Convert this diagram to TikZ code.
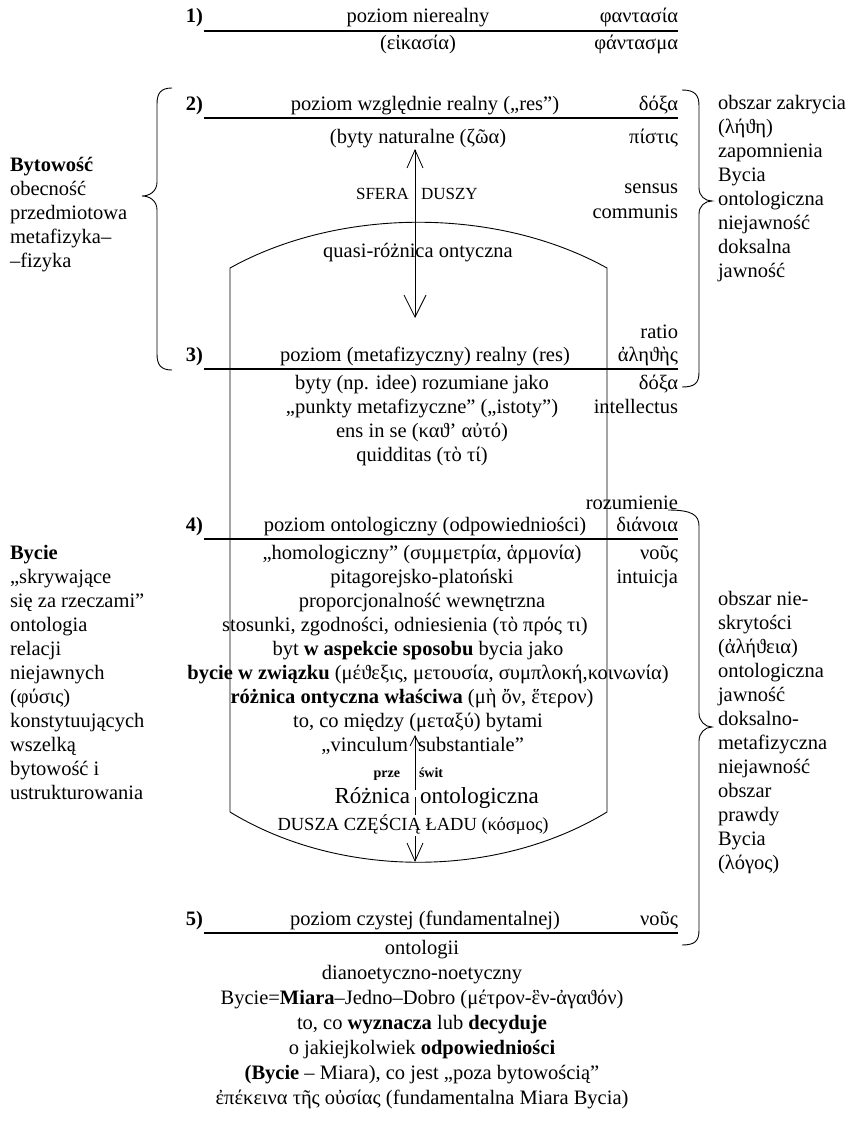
\documentclass[tikz,border=0pt]{standalone}
\usepackage{fontspec}
\setmainfont{Liberation Serif}
\usetikzlibrary{arrows.meta}
\newcommand{\mainsize}{\fontsize{20.5}{24}\selectfont}
\newcommand{\capsize}{\fontsize{17}{20}\selectfont}
\begin{document}
\begin{tikzpicture}[x=1pt,y=-1pt,
  txt/.style={inner sep=0pt,outer sep=0pt,font=\mainsize},
  ctext/.style={txt,anchor=base},
  rtext/.style={txt,anchor=base east},
  ltext/.style={txt,anchor=base west},
  numlabel/.style={txt,anchor=base east,font=\mainsize\bfseries},
  capstext/.style={inner sep=0pt,outer sep=0pt,font=\capsize},
  smallbold/.style={inner sep=0pt,outer sep=0pt,font=\fontsize{14}{16}\selectfont\bfseries},
  bigtext/.style={inner sep=0pt,outer sep=0pt,anchor=base,font=\fontsize{23}{26}\selectfont},
  levelline/.style={line width=1.2pt},
  frame/.style={line width=0.9pt},
  bracepath/.style={line width=0.9pt},
  barbline/.style={line width=0.8pt},
]
\useasboundingbox (0,0) rectangle (855,1124);

% ---------- level 1 ----------
\node[numlabel] (n1) at (203,23) {1)};
\node[ctext] (t1) at (418,23) {poziom nierealny};
\node[rtext] (g1) at (678,23) {φαντασία};
\coordinate (l1a) at (204,31); \coordinate (l1b) at (678,31);
\draw[levelline] (l1a) -- (l1b);
\node[ctext] (t1b) at (418,50) {(εἰκασία)};
\node[rtext] (g1b) at (678,50) {φάντασμα};

% ---------- level 2 ----------
\node[numlabel] (n2) at (203,110) {2)};
\node[ctext] (t2) at (425,110) {poziom względnie realny („res”)};
\node[rtext] (g2) at (678,110) {δόξα};
\coordinate (l2a) at (204,118); \coordinate (l2b) at (678,118);
\draw[levelline] (l2a) -- (l2b);
\node[ctext] (t2b) at (418,143) {(byty naturalne (ζῶα)};
\node[rtext] (g2b) at (678,143) {πίστις};
\node[capstext,anchor=base east] (sf1) at (409,199) {SFERA};
\node[capstext,anchor=base west] (sf2) at (421,199) {DUSZY};
\node[rtext] (g2c) at (678,193) {sensus};
\node[rtext] (g2d) at (678,218) {communis};
\node[ctext] (q) at (418,257) {quasi-różnica ontyczna};
\node[rtext] (g2e) at (678,338) {ratio};

% soul sphere arrow
\coordinate (aTop) at (415,149);
\coordinate (aBot) at (415,318);
\draw[barbline,{Straight Barb[length=18pt,width=16pt]}-{Straight Barb[length=22pt,width=22pt]}] (aTop) -- (aBot);

% ---------- container ----------
\coordinate (cTL) at (230,268); \coordinate (cTR) at (607,268);
\coordinate (cBL) at (230,812); \coordinate (cBR) at (607,812);
\draw[frame] (cBL) -- (cTL) .. controls (340,207) and (497,207) .. (cTR) -- (cBR)
  .. controls (497,879) and (340,879) .. (cBL);

% ---------- level 3 ----------
\node[numlabel] (n3) at (203,361) {3)};
\node[ctext] (t3) at (425,361) {poziom (metafizyczny) realny (res)};
\node[rtext] (g3) at (678,361) {ἀληϑὴς};
\coordinate (l3a) at (204,369); \coordinate (l3b) at (678,369);
\draw[levelline] (l3a) -- (l3b);
\node[ctext] (t3b) at (422,389) {byty (np. idee) rozumiane jako};
\node[rtext] (g3b) at (678,389) {δόξα};
\node[ctext] (t3c) at (422,413) {„punkty metafizyczne” („istoty”)};
\node[rtext] (g3c) at (678,413) {intellectus};
\node[ctext] (t3d) at (422,437) {ens in se (καϑ’ αὐτό)};
\node[ctext] (t3e) at (422,461) {quidditas (τὸ τί)};
\node[rtext] (g3d) at (678,509) {rozumienie};

% ---------- level 4 ----------
\node[numlabel] (n4) at (203,531) {4)};
\node[ctext] (t4) at (425,531) {poziom ontologiczny (odpowiedniości)};
\node[rtext] (g4) at (678,531) {διάνοια};
\coordinate (l4a) at (204,539); \coordinate (l4b) at (678,539);
\draw[levelline] (l4a) -- (l4b);
\node[ctext] (c1) at (422,559) {„homologiczny” (συμμετρία, ἁρμονία)};
\node[rtext] (g4b) at (678,559) {νοῦς};
\node[ctext] (c2) at (422,583) {pitagorejsko-platoński};
\node[rtext] (g4c) at (678,583) {intuicja};
\node[ctext] (c3) at (422,607) {proporcjonalność wewnętrzna};
\node[ctext] (c4) at (405,631) {stosunki, zgodności, odniesienia (τὸ πρός τι)};
\node[ctext] (c5) at (418,655) {byt \textbf{w aspekcie sposobu} bycia jako};
\node[ctext] (c6) at (428,679) {\textbf{bycie w związku} (μέϑεξις, μετουσία, συμπλοκή,κοινωνία)};
\node[ctext] (c7) at (412,703) {\textbf{różnica ontyczna właściwa} (μὴ ὄν, ἕτερον)};
\node[ctext] (c8) at (418,727) {to, co między (μεταξύ) bytami};
\node[txt,anchor=base east] (c9a) at (408,751) {„vinculum};
\node[txt,anchor=base west] (c9b) at (418,751) {substantiale”};
\node[smallbold,anchor=base east] (pz1) at (400,777) {prze};
\node[smallbold,anchor=base west] (pz2) at (419,777) {świt};
\node[bigtext,anchor=base east] (ro1) at (410,803) {Różnica};
\node[bigtext,anchor=base west] (ro2) at (420,803) {ontologiczna};
\node[inner sep=0pt,outer sep=0pt,anchor=base,font=\fontsize{18.5}{22}\selectfont] (dusza) at (413,830) {DUSZA CZĘŚCIĄ ŁADU (κόσμος)};

\coordinate (vTip) at (415,735);
\coordinate (vLow) at (415,790);
\draw[barbline,-{Straight Barb[length=10pt,width=10pt]}] (vLow) -- (vTip);
\coordinate (mA) at (415,797); \coordinate (mB) at (415,815);
\draw[barbline] (mA) -- (mB);
\coordinate (dA) at (415,836); \coordinate (dTip) at (415,862);
\draw[barbline,-{Straight Barb[length=18pt,width=16pt]}] (dA) -- (dTip);

% ---------- level 5 ----------
\node[numlabel] (n5) at (203,925) {5)};
\node[ctext] (t5) at (425,925) {poziom czystej (fundamentalnej)};
\node[rtext] (g5) at (678,925) {νοῦς};
\coordinate (l5a) at (204,933); \coordinate (l5b) at (678,933);
\draw[levelline] (l5a) -- (l5b);
\node[ctext] (b1) at (422,954) {ontologii};
\node[ctext] (b2) at (422,979) {dianoetyczno-noetyczny};
\node[ctext] (b3) at (422,1004) {Bycie=\textbf{Miara}–Jedno–Dobro (μέτρον-ἓν-ἀγαϑόν)};
\node[ctext] (b4) at (422,1029) {to, co \textbf{wyznacza} lub \textbf{decyduje}};
\node[ctext] (b5) at (422,1054) {o jakiejkolwiek \textbf{odpowiedniości}};
\node[ctext] (b6) at (422,1079) {\textbf{(Bycie} – Miara), co jest „poza bytowością”};
\node[ctext] (b7) at (422,1104) {ἐπέκεινα τῆς οὐσίας (fundamentalna Miara Bycia)};

% ---------- left column ----------
\node[ltext] (L1) at (10,171) {\textbf{Bytowość}};
\node[ltext] (L2) at (10,195) {obecność};
\node[ltext] (L3) at (10,219) {przedmiotowa};
\node[ltext] (L4) at (10,243) {metafizyka–};
\node[ltext] (L5) at (10,267) {–fizyka};

\node[ltext] (M1) at (10,559) {\textbf{Bycie}};
\node[ltext] (M2) at (10,583) {„skrywające};
\node[ltext] (M3) at (10,607) {się za rzeczami”};
\node[ltext] (M4) at (10,631) {ontologia};
\node[ltext] (M5) at (10,655) {relacji};
\node[ltext] (M6) at (10,679) {niejawnych};
\node[ltext] (M7) at (10,703) {(φύσις)};
\node[ltext] (M8) at (10,727) {konstytuujących};
\node[ltext] (M9) at (10,751) {wszelką};
\node[ltext] (M10) at (10,775) {bytowość i};
\node[ltext] (M11) at (10,799) {ustrukturowania};

% ---------- right column ----------
\node[ltext] (R1) at (718,109) {obszar zakrycia};
\node[ltext] (R2) at (718,133) {(λήϑη)};
\node[ltext] (R3) at (718,157) {zapomnienia};
\node[ltext] (R4) at (718,181) {Bycia};
\node[ltext] (R5) at (718,205) {ontologiczna};
\node[ltext] (R6) at (718,229) {niejawność};
\node[ltext] (R7) at (718,253) {doksalna};
\node[ltext] (R8) at (718,277) {jawność};

\node[ltext] (S1) at (718,605) {obszar nie-};
\node[ltext] (S2) at (718,629) {skrytości};
\node[ltext] (S3) at (718,653) {(ἀλήϑεια)};
\node[ltext] (S4) at (718,677) {ontologiczna};
\node[ltext] (S5) at (718,701) {jawność};
\node[ltext] (S6) at (718,725) {doksalno-};
\node[ltext] (S7) at (718,749) {metafizyczna};
\node[ltext] (S8) at (718,773) {niejawność};
\node[ltext] (S9) at (718,797) {obszar};
\node[ltext] (S10) at (718,821) {prawdy};
\node[ltext] (S11) at (718,845) {Bycia};
\node[ltext] (S12) at (718,869) {(λόγος)};

% ---------- braces ----------
\draw[bracepath] (172,88) .. controls (161,88) and (157,93) .. (157,104) -- (157,182)
  .. controls (157,191) and (150,196) .. (142,196)
  .. controls (150,196) and (157,201) .. (157,210) -- (157,354)
  .. controls (157,365) and (161,370) .. (172,370);
\draw[bracepath] (682,90) .. controls (695,90) and (699,95) .. (699,106) -- (699,188)
  .. controls (699,196) and (705,201) .. (712,201)
  .. controls (705,201) and (699,206) .. (699,214) -- (699,372)
  .. controls (699,383) and (695,387) .. (682,387);
\draw[bracepath] (668,510) .. controls (692,510) and (699,515) .. (699,526) -- (699,713)
  .. controls (699,721) and (705,727) .. (712,727)
  .. controls (705,727) and (699,733) .. (699,741) -- (699,930)
  .. controls (699,941) and (695,945) .. (682,945);
\end{tikzpicture}
\end{document}
